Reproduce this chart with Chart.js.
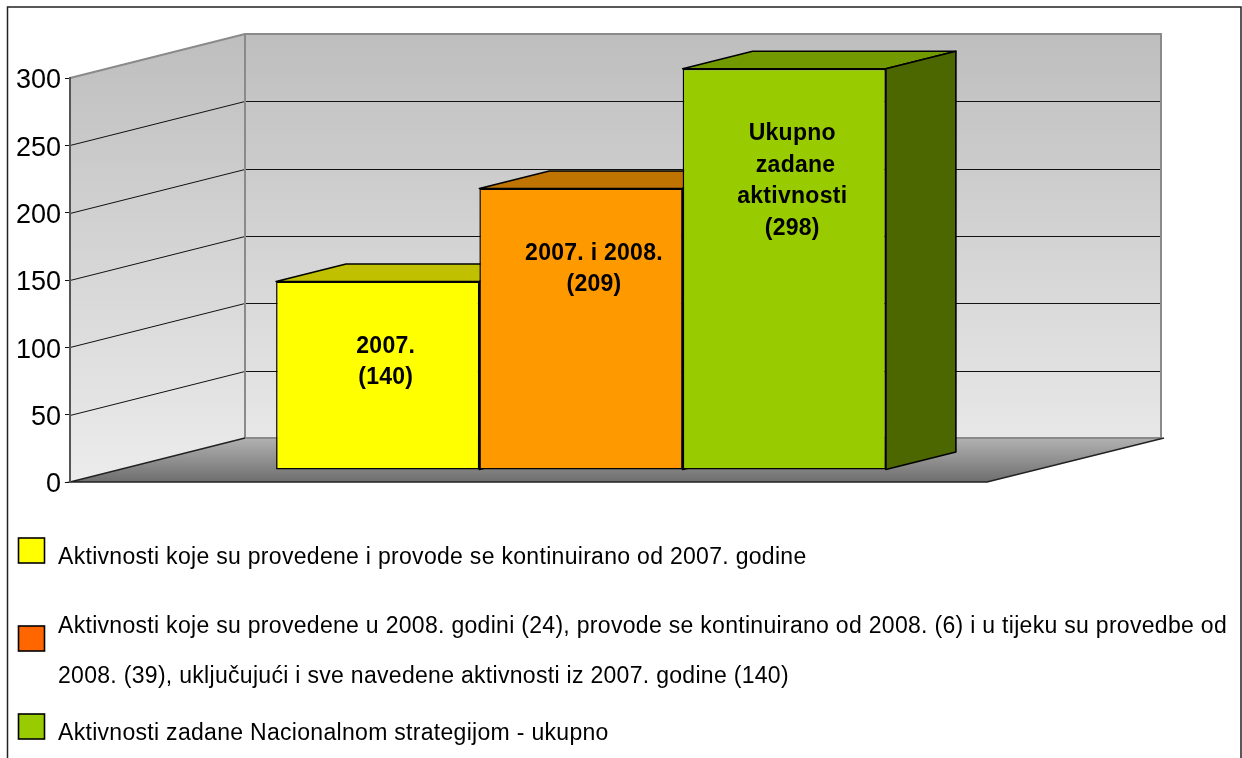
<!DOCTYPE html>
<html>
<head>
<meta http-equiv="Content-Type" content="text/html;charset=utf-8" />
<script src="https://cdn.jsdelivr.net/npm/chart.js@4"></script>
<style>
  html, body { margin: 0; padding: 0; background: #fff; overflow: hidden; }
  #wrap { position: relative; width: 1242px; height: 758px; }
</style>
</head>
<body>
<div id="wrap"><canvas id="bars3d" width="1242" height="758"></canvas></div>
<script type="text/javascript">
var categories = ['Aktivnosti'];
var seriesNames = ['2007.', '2007. i 2008.', 'Ukupno zadane aktivnosti'];
var seriesValues = [140, 209, 298];
var barColors = ['#ffff00', '#ff9900', '#99cc00'];
var topColors = ['#c0c000', '#bf7300', '#729900'];
var sideColors = ['#808000', '#804d00', '#4c6600'];
var barLabels = [['2007.', '(140)'], ['2007. i 2008.', '(209)'], ['Ukupno', ' zadane', 'aktivnosti', '(298)']];
var tickValues = [0, 50, 100, 150, 200, 250, 300];
var legendColors = ['#ffff00', '#ff6600', '#99cc00'];
var legendLines = [
  ['Aktivnosti koje su provedene i provode se kontinuirano od 2007. godine'],
  ['Aktivnosti koje su provedene u 2008. godini (24), provode se kontinuirano od 2008. (6) i u tijeku su provedbe od',
   '2008. (39), uključujući i sve navedene aktivnosti iz 2007. godine (140)'],
  ['Aktivnosti zadane Nacionalnom strategijom - ukupno']
];

// 3d look: the back wall sits up and right of the axis
var wallDx = 175, wallDy = 44, wallRight = 1161;
// bars stand a bit inside the floor, and have their own depth
var barShiftX = 52.5, barShiftY = -12, barDepthX = 70, barDepthY = 17.5;
var labelOffsetX = [8, 13, 8];

var font = '"Liberation Sans", Arial, sans-serif';

var walls3d = {
  id: 'walls3d',
  beforeDraw: function (chart) {
    var ctx = chart.ctx, y = chart.scales.y, area = chart.chartArea;
    var x0 = area.left, xr = area.right;
    var y0 = y.getPixelForValue(0), yt = y.getPixelForValue(300);
    var grad = ctx.createLinearGradient(0, yt - wallDy, 0, y0);
    grad.addColorStop(0, '#bebebe');
    grad.addColorStop(1, '#ececec');

    ctx.save();
    // frame, no bottom line, the picture is cut there
    ctx.strokeStyle = '#222';
    ctx.lineWidth = 1.5;
    ctx.beginPath();
    ctx.moveTo(7.5, 758); ctx.lineTo(7.5, 7); ctx.lineTo(1241, 7); ctx.lineTo(1241, 758);
    ctx.stroke();

    // left wall + back wall
    ctx.fillStyle = grad;
    ctx.beginPath();
    ctx.moveTo(x0, yt); ctx.lineTo(x0 + wallDx, yt - wallDy); ctx.lineTo(wallRight, yt - wallDy);
    ctx.lineTo(wallRight, y0 - wallDy); ctx.lineTo(x0 + wallDx, y0 - wallDy); ctx.lineTo(x0, y0);
    ctx.closePath();
    ctx.fill();

    // floor
    var floor = ctx.createLinearGradient(0, y0 - wallDy, 0, y0);
    floor.addColorStop(0, '#b2b2b2');
    floor.addColorStop(1, '#6e6e6e');
    ctx.fillStyle = floor;
    ctx.beginPath();
    ctx.moveTo(x0, y0); ctx.lineTo(x0 + wallDx, y0 - wallDy); ctx.lineTo(wallRight + 3, y0 - wallDy); ctx.lineTo(xr, y0);
    ctx.closePath();
    ctx.fill();

    // grid lines on both walls
    ctx.strokeStyle = '#111';
    ctx.lineWidth = 1;
    tickValues.forEach(function (v) {
      if (v === 0 || v === 300) return;
      var py = Math.round(y.getPixelForValue(v)) + 0.5;
      ctx.beginPath();
      ctx.moveTo(x0, py); ctx.lineTo(x0 + wallDx, py - wallDy); ctx.lineTo(wallRight, py - wallDy);
      ctx.stroke();
    });

    // wall edges
    ctx.strokeStyle = '#8a8a8a';
    ctx.lineWidth = 2;
    ctx.beginPath();
    ctx.moveTo(x0, yt); ctx.lineTo(x0 + wallDx, yt - wallDy); ctx.lineTo(wallRight, yt - wallDy);
    ctx.lineTo(wallRight, y0 - wallDy); ctx.lineTo(x0 + wallDx, y0 - wallDy);
    ctx.moveTo(x0 + wallDx, yt - wallDy); ctx.lineTo(x0 + wallDx, y0 - wallDy);
    ctx.stroke();

    // floor edges
    ctx.strokeStyle = '#222';
    ctx.lineWidth = 1.5;
    ctx.beginPath();
    ctx.moveTo(x0 + wallDx, y0 - wallDy); ctx.lineTo(x0, y0); ctx.lineTo(xr, y0); ctx.lineTo(wallRight + 3, y0 - wallDy);
    ctx.stroke();
    ctx.restore();
  },
  // tops and sides go in first, left to right, the front faces cover what is hidden
  beforeDatasetsDraw: function (chart) {
    var ctx = chart.ctx;
    ctx.save();
    ctx.translate(barShiftX, barShiftY);
    seriesValues.forEach(function (v, i) {
      var p = chart.getDatasetMeta(i).data[0].getProps(['x', 'y', 'base', 'width'], true);
      var l = p.x - p.width / 2, r = p.x + p.width / 2;
      ctx.save();
      ctx.strokeStyle = '#000';
      ctx.lineWidth = 1.6;
      ctx.lineJoin = 'round';
      ctx.fillStyle = topColors[i];
      ctx.beginPath();
      ctx.moveTo(l, p.y); ctx.lineTo(l + barDepthX, p.y - barDepthY); ctx.lineTo(r + barDepthX, p.y - barDepthY); ctx.lineTo(r, p.y);
      ctx.closePath();
      ctx.fill(); ctx.stroke();
      ctx.fillStyle = sideColors[i];
      ctx.beginPath();
      ctx.moveTo(r, p.y); ctx.lineTo(r + barDepthX, p.y - barDepthY); ctx.lineTo(r + barDepthX, p.base - barDepthY); ctx.lineTo(r, p.base);
      ctx.closePath();
      ctx.fill(); ctx.stroke();
      ctx.restore();
    });
  },
  afterDatasetsDraw: function (chart) {
    var ctx = chart.ctx;
    ctx.fillStyle = '#000';
    ctx.textBaseline = 'middle';
    ctx.textAlign = 'center';
    ctx.font = 'bold 23px ' + font;
    ctx.letterSpacing = '0.27px';
    seriesValues.forEach(function (v, i) {
      var bar = chart.getDatasetMeta(i).data[0];
      barLabels[i].forEach(function (line, n) {
        ctx.fillText(line, bar.x + labelOffsetX[i], bar.y + 65 + n * 31.5);
      });
    });
    ctx.restore();

    // legend
    ctx.save();
    ctx.textAlign = 'left';
    ctx.textBaseline = 'alphabetic';
    ctx.font = '23px ' + font;
    ctx.letterSpacing = '0.3px';
    var swatchY = [538, 626, 714];
    var textY = [564, 633, 683, 740];
    var k = 0;
    legendLines.forEach(function (lines, i) {
      ctx.fillStyle = legendColors[i];
      ctx.strokeStyle = '#000';
      ctx.lineWidth = 1.6;
      ctx.fillRect(18.5, swatchY[i], 26, 25);
      ctx.strokeRect(18.5, swatchY[i], 26, 25);
      ctx.fillStyle = '#000';
      lines.forEach(function (t) {
        ctx.fillText(t, 58, textY[k]);
        k++;
      });
    });
    ctx.restore();
  }
};

var datasets = seriesValues.map(function (v, i) {
  return {
    label: seriesNames[i],
    data: [v],
    backgroundColor: barColors[i],
    borderColor: '#000',
    borderWidth: 1.5,
    borderSkipped: false,
    clip: false,
    categoryPercentage: 0.665,
    barPercentage: 1
  };
});

new Chart(document.getElementById('bars3d').getContext('2d'), {
  type: 'bar',
  data: { labels: categories, datasets: datasets },
  plugins: [walls3d],
  options: {
    responsive: false,
    animation: false,
    layout: { padding: { left: 0, top: 78, right: 255, bottom: 276 } },
    plugins: { legend: { display: false }, tooltip: { enabled: false } },
    scales: {
      x: { display: false },
      y: {
        min: 0,
        max: 300,
        afterBuildTicks: function (s) { s.ticks = tickValues.map(function (v) { return { value: v }; }); },
        afterFit: function (s) { s.width = 70; },
        grid: { drawOnChartArea: false, color: '#111', tickLength: 5 },
        border: { color: '#555', width: 2 },
        ticks: { color: '#000', font: { family: font, size: 27 }, padding: 4, labelOffset: 3, autoSkip: false }
      }
    }
  }
});
</script>
</body>
</html>
